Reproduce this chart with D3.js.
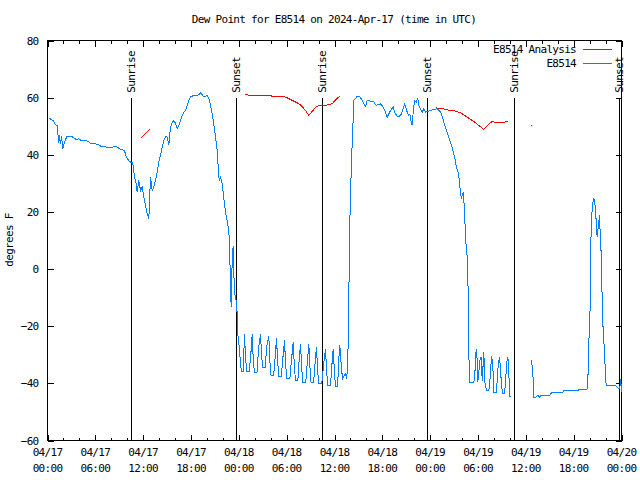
<!DOCTYPE html>
<html>
<head>
<meta charset="utf-8">
<script src="https://cdn.jsdelivr.net/npm/d3@7"></script>
<style>
  body { margin: 0; background: #fff; }
  svg { display: block; }
  text { font-family: "DejaVu Sans Mono", monospace; font-size: 11px; letter-spacing: -0.7px; fill: #000; }
</style>
</head>
<body>
<svg id="chart" width="640" height="480"></svg>
<script>
// ---------- data (hours after 2024-04-17 00:00 UTC, degrees F) ----------
const START = Date.UTC(2024, 3, 17);
const SPAN_HOURS = 72;

const yTicks = [-60, -40, -20, 0, 20, 40, 60, 80];

const sunLabels = ['Sunrise', 'Sunset', 'Sunrise', 'Sunset', 'Sunrise', 'Sunset'];
const sunHours = [10.54, 23.71, 34.5, 47.67, 58.58, 71.75];

const seriesNames = ['E8514 Analysis', 'E8514'];
const seriesColors = ['#ff0000', '#0080ff'];

// analysis (null = gap)
const analysis = [
  [11.75, 46.0], [12.8, 48.9], [18, null],
  [24.75, 61.0], [26.09, 60.75], [27.97, 60.6], [29.85, 60.2], [30.48, 59.35], [31.32, 58.2],
  [31.74, 57.5], [32.36, 55.5], [32.78, 53.75], [33.2, 55.2], [33.74, 57.0], [34.46, 57.25],
  [35.29, 57.5], [35.79, 58.1], [36.13, 59.2], [36.75, 60.75], [40, null],
  [48.67, 56.4], [49.3, 56.3], [49.92, 55.85], [50.55, 55.5], [51.18, 55.3], [51.81, 54.7],
  [52.35, 53.75], [52.85, 52.8], [53.48, 51.65], [54.1, 50.25], [54.73, 48.85], [55.16, 50.25],
  [55.78, 51.65], [56.41, 51.2], [57.24, 51.4], [57.79, 51.65], [59, null],
  [60.71, 50.25]
];

// observations (null = gap)
const observed = [
  [0.13, 53.0], [0.38, 52.5], [0.75, 51.8], [1.0, 50.5], [1.25, 50.3], [1.38, 44.0], [1.47, 47.0],
  [1.63, 43.8], [1.76, 46.5], [1.92, 42.1], [2.13, 44.4], [2.42, 46.4], [2.97, 46.5], [3.26, 46.0],
  [3.6, 45.4], [3.93, 45.6], [4.23, 45.0], [4.64, 45.0], [5.06, 44.8], [5.48, 43.8], [5.9, 44.0],
  [6.31, 43.6], [6.74, 42.9], [7.15, 43.0], [7.4, 42.6], [7.99, 42.6], [8.4, 42.8], [8.82, 42.7],
  [9.03, 42.1], [9.66, 41.5], [9.87, 39.2], [10.29, 37.6], [10.7, 37.2], [10.91, 32.2], [11.13, 29.8],
  [11.25, 26.9], [11.45, 31.0], [11.67, 27.5], [11.88, 28.7], [12.08, 25.2], [12.29, 22.3], [12.51, 19.3],
  [12.71, 17.6], [12.92, 32.2], [13.13, 27.5], [13.33, 28.7], [13.55, 31.0], [13.76, 33.9], [13.96, 37.4],
  [14.17, 39.8], [14.39, 42.7], [14.59, 45.0], [14.8, 46.4], [15.02, 46.2], [15.22, 43.3], [15.43, 49.7],
  [15.64, 51.4], [15.84, 52.0], [16.06, 51.0], [16.27, 49.1], [16.47, 50.3], [16.68, 52.0], [16.9, 53.8],
  [17.1, 54.9], [17.31, 55.5], [17.52, 57.3], [17.72, 59.0], [17.94, 60.2], [18.35, 60.8], [18.78, 60.6],
  [19.19, 61.6], [19.41, 61.0], [19.61, 60.2], [20.03, 60.8], [20.23, 59.7], [20.45, 57.3], [20.66, 54.3],
  [20.86, 50.8], [21.07, 46.2], [21.29, 41.5], [21.41, 35.7], [21.54, 31.0], [21.7, 32.2], [21.91, 29.8],
  [22.12, 24.6], [22.33, 19.9], [22.54, 17.0], [22.74, 13.5], [22.83, 8.8], [22.96, -5.8], [23.04, -13.3],
  [23.17, 3.6], [23.29, 8.0], [23.42, -5.8], [23.55, -10.0], [23.71, -11.6], [23.8, -16.3], [23.87, -22.7],
  [24.08, -27.9], [24.21, -33.2], [24.34, -35.9], [24.55, -35.9],
  [24.71, -22.7], [24.84, -31], [24.99, -35.9], [25.31, -35.9], [25.5, -30],
  [25.68, -22.7], [25.81, -32], [25.96, -36.1], [26.28, -36.1], [26.47, -28],
  [26.72, -22.7], [26.85, -30], [27.0, -34.5], [27.3, -34.5], [27.5, -27],
  [27.76, -23.3], [27.89, -32], [28.04, -37.3], [28.36, -37.3], [28.55, -31],
  [28.73, -24.3], [28.86, -32], [29.01, -37.6], [29.33, -37.6], [29.53, -31],
  [29.73, -25.0], [29.86, -33], [30.01, -38.4], [30.4, -38.4], [30.6, -32],
  [30.82, -25.6], [30.95, -33], [31.1, -39.0], [31.4, -39.0], [31.56, -32],
  [31.74, -26.2], [31.87, -34], [32.02, -39.6], [32.4, -39.6], [32.58, -33],
  [32.78, -26.4], [32.91, -34], [33.06, -39.8], [33.38, -39.8], [33.56, -33],
  [33.74, -27.3], [33.87, -35], [34.02, -40.1], [34.4, -40.1], [34.65, -33],
  [34.87, -27.9], [35.0, -35], [35.15, -40.8], [35.5, -40.8], [35.66, -34],
  [35.84, -27.9], [35.97, -35], [36.12, -41.0], [36.4, -41.0], [36.5, -33],
  [36.66, -26.5], [36.8, -32], [37.0, -38.4], [37.2, -37.5], [37.38, -36.6], [37.5, -38.3],
  [37.62, -35.5], [37.75, -22.6], [37.88, 10.0], [38.0, 25.8], [38.2, 42.7], [38.35, 53.2],
  [38.42, 59.0], [38.85, 60.5], [39.17, 60.3], [39.48, 59.0], [39.68, 57.8], [39.89, 56.9],
  [40.1, 59.0], [40.52, 58.8], [40.93, 58.5], [41.23, 57.3], [41.77, 57.8], [42.11, 56.7],
  [42.4, 54.9], [42.61, 53.2], [42.81, 54.3], [43.03, 55.5], [43.37, 56.7], [43.53, 54.9],
  [43.87, 53.4], [44.07, 53.2], [44.4, 54.3], [44.62, 56.1], [44.82, 57.8], [45.12, 54.9],
  [45.32, 53.8], [45.45, 54.3], [45.62, 51.4], [45.75, 50.3], [45.87, 54.9], [46.04, 59.0],
  [46.25, 58.4], [46.45, 59.8], [46.58, 57.2], [46.79, 56.1], [47.0, 54.9], [47.2, 56.1],
  [47.42, 54.9], [47.7, 55.1], [48.04, 55.5], [48.46, 55.9], [48.88, 56.1], [49.3, 54.9],
  [49.51, 53.5], [49.71, 51.4], [49.92, 49.7], [50.14, 47.9], [50.34, 46.2], [50.55, 44.4],
  [50.76, 42.7], [50.96, 40.3], [51.18, 38.0], [51.27, 35.7], [51.47, 34.5], [51.6, 32.2],
  [51.72, 29.3], [51.81, 26.3], [51.93, 24.6], [52.02, 26.0], [52.14, 26.5], [52.27, 22.3],
  [52.4, 14.1], [52.52, 7.7], [52.65, 4.2], [52.77, -8.1], [52.85, -29.1], [52.94, -39.6],
  [53.48, -39.6], [53.6, -37.3], [53.69, -31.4], [53.78, -27.9], [53.9, -32.0], [53.98, -39.6],
  [54.1, -36.1], [54.23, -32.0], [54.4, -30.8], [54.53, -39.0], [54.73, -29.1], [54.85, -39.6],
  [55.07, -42.5], [55.36, -42.5], [55.48, -39.6], [55.7, -30.3], [55.86, -33.8], [55.98, -43.1],
  [56.28, -43.1], [56.41, -39.0], [56.53, -33.8], [56.7, -30.8], [56.82, -34.9], [56.95, -40.8],
  [57.11, -43.7], [57.33, -43.7], [57.45, -39.6], [57.61, -32.6], [57.74, -30.8], [57.86, -34.9],
  [57.95, -44.3], [58.08, -44.8], [59.4, null],
  [60.71, -31.8], [60.84, -35.3], [61.0, -41.6], [61.01, -44.8], [61.3, -44.8], [61.5, -44.1],
  [61.72, -44.8], [61.97, -44.1], [63.01, -44.1], [63.22, -43.3], [64.56, -43.3], [64.76, -42.6],
  [66.44, -42.6], [66.64, -42.3], [67.61, -42.3], [67.77, -41.6], [67.82, -33.8], [67.99, -18.3],
  [68.11, -11.0], [68.18, 12.3], [68.33, 21.7], [68.45, 24.0], [68.53, 24.9], [68.65, 23.5],
  [68.74, 20.5], [68.95, 11.2], [69.08, 14.7], [69.15, 16.4], [69.24, 18.8], [69.33, 12.0],
  [69.4, 10.0], [69.58, -11.0], [69.7, -21.7], [69.87, -29.1], [69.99, -37.3], [70.08, -40.8],
  [71.25, -40.8], [71.46, -41.3], [71.66, -41.9], [71.79, -41.5], [71.9, -38.5], [72.0, -43.0]
];

// ---------- layout ----------
const svg = d3.select('#chart');
const L = 47.5, R = 621.5, T = 40.5, B = 440.5;
const hourToDate = h => new Date(START + h * 3600e3);

const x = d3.scaleUtc().domain([hourToDate(0), hourToDate(SPAN_HOURS)]).range([L, R]);
const y = d3.scaleLinear().domain([-60, 80]).range([B, T]);

const majors = x.ticks(d3.utcHour.every(6));
const minors = x.ticks(d3.utcHour.every(2));
const fmtDay = d3.utcFormat('%m/%d');
const fmtTime = d3.utcFormat('%H:%M');

// title
svg.append('text')
  .attr('x', 334).attr('y', 23)
  .attr('text-anchor', 'middle')
  .text('Dew Point for E8514 on 2024-Apr-17 (time in UTC)');

// y label
svg.append('text')
  .attr('transform', 'translate(13,240) rotate(-90)')
  .attr('text-anchor', 'middle')
  .text('degrees F');

// ---------- axes (gnuplot style: inward ticks, mirrored) ----------
const axes = svg.append('g').attr('shape-rendering', 'crispEdges');

axes.append('g')
  .attr('transform', `translate(0,${B})`)
  .call(d3.axisBottom(x).tickValues(minors).tickSize(-3).tickFormat(''))
  .call(g => g.select('.domain').remove());
axes.append('g')
  .attr('transform', `translate(0,${T})`)
  .call(d3.axisTop(x).tickValues(minors).tickSize(-3).tickFormat(''))
  .call(g => g.select('.domain').remove());
axes.append('g')
  .attr('transform', `translate(0,${B})`)
  .call(d3.axisBottom(x).tickValues(majors).tickSize(-6).tickFormat(''))
  .call(g => g.select('.domain').remove());
axes.append('g')
  .attr('transform', `translate(0,${T})`)
  .call(d3.axisTop(x).tickValues(majors).tickSize(-6).tickFormat(''))
  .call(g => g.select('.domain').remove());

const xLab = svg.append('g').selectAll('text')
  .data(majors).enter().append('text')
  .attr('text-anchor', 'middle')
  .attr('x', d => x(d));
xLab.append('tspan').attr('y', 456).text(d => fmtDay(d));
xLab.append('tspan').attr('x', d => x(d)).attr('y', 472).text(d => fmtTime(d));

axes.append('g')
  .attr('transform', `translate(${L},0)`)
  .call(d3.axisLeft(y).tickValues(yTicks).tickSize(-6).tickPadding(9).tickFormat(d3.format('d')))
  .call(g => g.select('.domain').remove())
  .call(g => g.selectAll('text').attr('font-size', null).attr('font-family', null).attr('fill', '#000'));
axes.append('g')
  .attr('transform', `translate(${R},0)`)
  .call(d3.axisRight(y).tickValues(yTicks).tickSize(-6).tickFormat(''))
  .call(g => g.select('.domain').remove());

axes.selectAll('.tick line').attr('stroke', '#000');

// plot border
axes.append('rect')
  .attr('x', L).attr('y', T).attr('width', R - L).attr('height', B - T)
  .attr('fill', 'none').attr('stroke', '#000');

// ---------- sunrise / sunset markers ----------
const sunX = h => Math.floor(x(hourToDate(h))) + 0.5;
const sun = svg.append('g').selectAll('g')
  .data(sunHours.map((h, i) => ({ h, label: sunLabels[i] })))
  .enter().append('g');

sun.append('line')
  .attr('shape-rendering', 'crispEdges')
  .attr('x1', d => sunX(d.h))
  .attr('x2', d => sunX(d.h))
  .attr('y1', y(60)).attr('y2', y(-60))
  .attr('stroke', '#000');

sun.append('text')
  .attr('transform', d => `translate(${sunX(d.h)},${y(60) - 5}) rotate(-90)`)
  .attr('dy', '0.35em')
  .text(d => d.label);

// ---------- series ----------
const line = d3.line()
  .defined(d => d[1] != null)
  .x(d => x(hourToDate(d[0])))
  .y(d => y(d[1]));

[analysis, observed].forEach((data, i) => {
  svg.append('path')
    .datum(data)
    .attr('fill', 'none')
    .attr('stroke', seriesColors[i])
    .attr('stroke-width', 1)
    .attr('shape-rendering', 'crispEdges')
    .attr('d', line);

  // isolated samples (a lone point between gaps)
  const lone = data.filter((d, j) => d[1] != null &&
    (j === 0 || data[j - 1][1] == null) &&
    (j === data.length - 1 || data[j + 1][1] == null));
  svg.append('g').selectAll('rect')
    .data(lone).enter().append('rect')
    .attr('x', d => x(hourToDate(d[0])) - 0.5)
    .attr('y', d => y(d[1]) - 0.5)
    .attr('width', 1.2).attr('height', 1.2)
    .attr('fill', seriesColors[i]);
});

// ---------- legend ----------
const legend = svg.append('g');
seriesNames.forEach((name, i) => {
  const ly = 49 + i * 14;
  legend.append('text')
    .attr('x', 576).attr('y', ly)
    .attr('dy', '0.35em')
    .attr('text-anchor', 'end')
    .text(name);
  legend.append('line')
    .attr('shape-rendering', 'crispEdges')
    .attr('x1', 583).attr('x2', 612)
    .attr('y1', ly + 0.5).attr('y2', ly + 0.5)
    .attr('stroke', seriesColors[i]);
});
</script>
</body>
</html>
